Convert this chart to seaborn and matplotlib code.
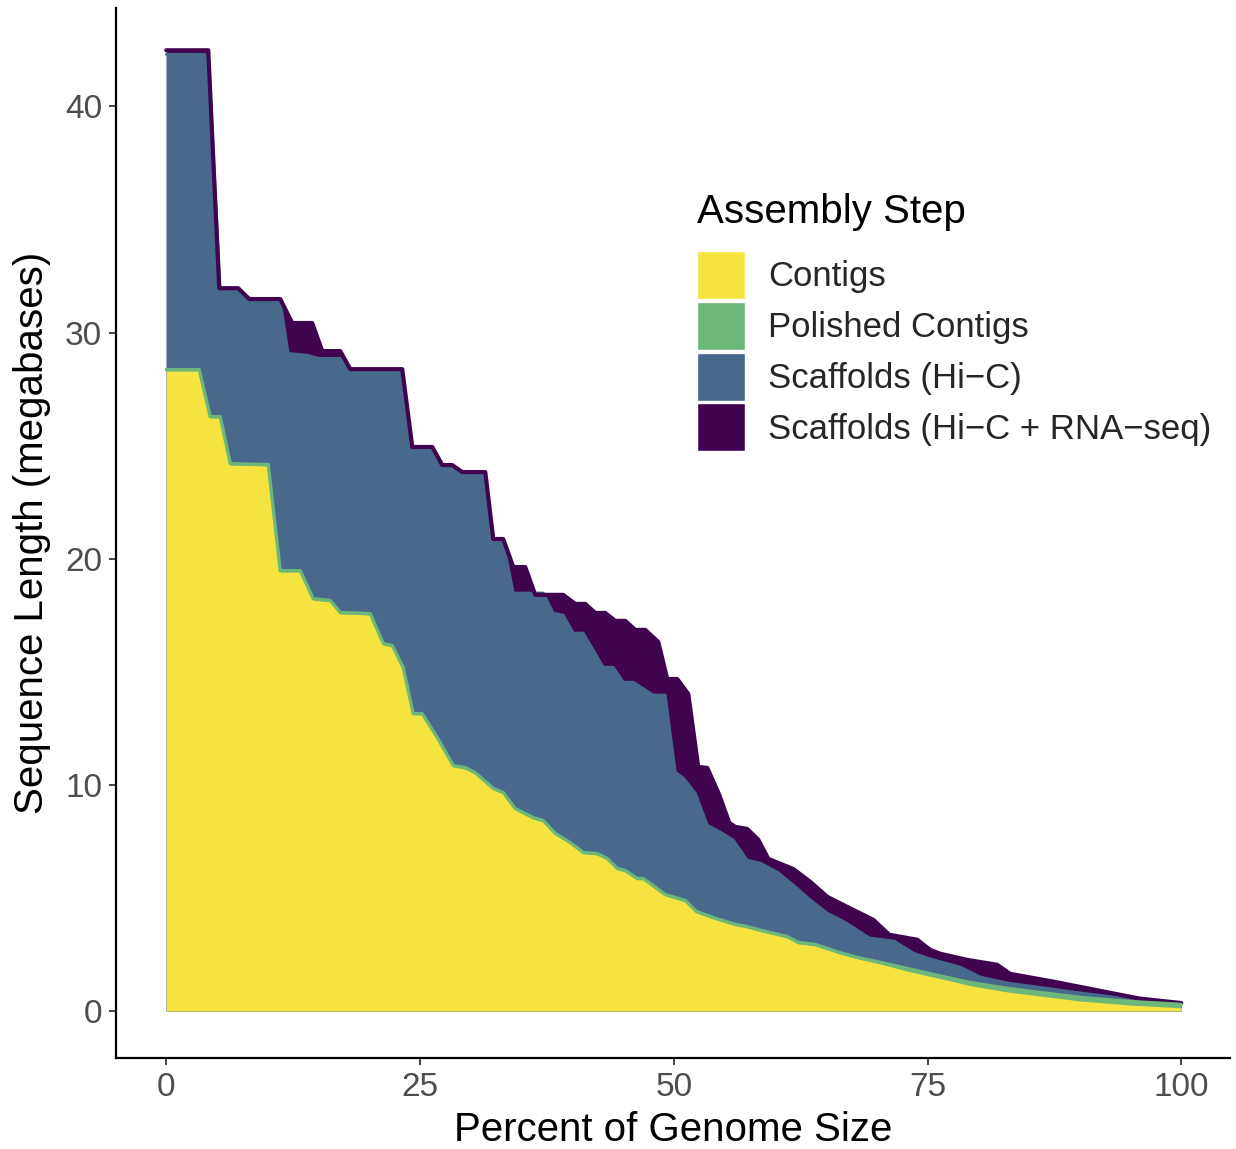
import matplotlib
matplotlib.use("Agg")
import matplotlib.pyplot as plt
from matplotlib.patches import Patch
import pandas as pd
import seaborn as sns

# assembly steps (legend order) and their fill colours
steps = ["Contigs", "Polished Contigs", "Scaffolds (Hi\u2212C)", "Scaffolds (Hi\u2212C + RNA\u2212seq)"]
colors = ["#F5E43F", "#6DB77B", "#48698B", "#3F0350"]

# Scaffolds (Hi-C + RNA-seq): percent of genome, length in Mb
rna_x = [0, 4.14, 5.22, 7.09, 8.18, 11.23, 12.41, 14.38, 15.37, 17.14, 18.13, 23.25, 24.24, 26.21,
         27.19, 28.18, 29.16, 31.43, 32.22, 33.20, 34.19, 35.37, 36.35, 39.11, 40.30, 41.28, 42.27,
         43.25, 44.24, 45.22, 46.21, 47.19, 48.47, 49.36, 50.34, 51.43, 52.41, 53.30, 54.48, 55.47,
         56.06, 57.24, 58.33, 59.31, 60.49, 61.77, 63.45, 65.12, 66.70, 69.66, 71.23, 73.99, 75.27,
         76.26, 78.92, 81.87, 83.15, 87.49, 91.43, 95.86, 100]
rna_y = [42.48, 42.48, 31.96, 31.96, 31.48, 31.48, 30.42, 30.42, 29.18, 29.18, 28.38, 28.38, 24.94, 24.94,
         24.14, 24.14, 23.83, 23.83, 20.87, 20.87, 19.63, 19.63, 18.40, 18.40, 18.00, 18.00, 17.60,
         17.60, 17.25, 17.25, 16.85, 16.85, 16.32, 14.68, 14.68, 14.02, 10.79, 10.75, 9.56, 8.32,
         8.14, 8.05, 7.57, 6.73, 6.51, 6.28, 5.71, 5.05, 4.69, 4.03, 3.37, 3.15, 2.70,
         2.53, 2.26, 2.04, 1.64, 1.29, 0.94, 0.55, 0.35]

# Scaffolds (Hi-C)
hic_x = [0, 4.14, 5.32, 7.09, 8.18, 11.23, 12.02, 13.99, 14.98, 17.14, 18.13, 23.25, 24.24, 26.21,
         27.19, 28.18, 29.16, 31.43, 32.22, 33.20, 34.19, 37.14, 38.13, 39.11, 40.10, 41.08, 43.05,
         44.04, 45.02, 46.01, 47.98, 49.16, 50.15, 50.94, 52.12, 53.30, 54.58, 55.86, 57.24, 58.52,
         60.20, 61.77, 63.45, 65.12, 67.00, 69.26, 71.72, 73.60, 74.98, 78.23, 80.20, 82.86, 90.05,
         94.98, 100]
hic_y = [42.30, 42.30, 31.87, 31.87, 31.38, 31.38, 29.08, 28.99, 28.86, 28.86, 28.29, 28.29, 24.84, 24.84,
         24.04, 24.04, 23.73, 23.73, 20.77, 20.77, 18.48, 18.48, 17.59, 17.50, 16.71, 16.71, 15.20,
         15.20, 14.54, 14.54, 13.97, 13.97, 10.56, 10.30, 9.64, 8.22, 7.91, 7.56, 6.67, 6.54,
         6.14, 5.57, 4.91, 4.33, 3.89, 3.23, 3.09, 2.56, 2.34, 1.94, 1.50, 1.24, 0.80,
         0.53, 0.31]

# Polished Contigs
polished_x = [0, 3.25, 4.33, 5.32, 6.31, 10.05, 11.23, 13.20, 14.48, 16.16, 17.14, 20.10, 21.38, 22.27,
              23.35, 24.33, 25.22, 26.70, 28.28, 29.46, 30.44, 32.22, 33.20, 34.38, 36.16, 37.14, 38.33,
              39.80, 41.08, 42.46, 43.45, 44.43, 45.22, 46.40, 47.00, 49.16, 51.13, 52.22, 53.89, 56.06,
              57.14, 59.01, 61.18, 62.27, 63.94, 66.31, 68.08, 70.34, 73.00, 76.95, 79.21, 82.86, 86.80,
              90.05, 94.98, 100]
polished_y = [28.36, 28.36, 26.28, 26.28, 24.20, 24.16, 19.47, 19.47, 18.23, 18.15, 17.62, 17.57, 16.25, 16.16,
              15.18, 13.15, 13.15, 12.09, 10.85, 10.76, 10.54, 9.84, 9.66, 8.95, 8.55, 8.42, 7.85,
              7.45, 7.01, 6.96, 6.74, 6.30, 6.21, 5.86, 5.86, 5.15, 4.89, 4.40, 4.13, 3.83,
              3.74, 3.52, 3.29, 3.03, 2.94, 2.59, 2.37, 2.15, 1.88, 1.48, 1.26, 1.00, 0.78,
              0.60, 0.42, 0.29]

# Contigs
contig_x = polished_x
contig_y = [28.30, 28.30, 26.22, 26.22, 24.14, 24.10, 19.41, 19.41, 18.17, 18.09, 17.56, 17.51, 16.19, 16.10,
            15.12, 13.09, 13.09, 12.03, 10.79, 10.70, 10.48, 9.78, 9.60, 8.89, 8.49, 8.36, 7.79,
            7.39, 6.95, 6.90, 6.68, 6.24, 6.15, 5.80, 5.80, 5.09, 4.83, 4.34, 4.07, 3.77,
            3.68, 3.46, 3.23, 2.97, 2.88, 2.53, 2.31, 2.08, 1.76, 1.36, 1.12, 0.84, 0.62,
            0.44, 0.26, 0.14]

df = pd.concat([
    pd.DataFrame({"pct": contig_x, "mb": contig_y, "step": steps[0]}),
    pd.DataFrame({"pct": polished_x, "mb": polished_y, "step": steps[1]}),
    pd.DataFrame({"pct": hic_x, "mb": hic_y, "step": steps[2]}),
    pd.DataFrame({"pct": rna_x, "mb": rna_y, "step": steps[3]}),
])

sns.set_theme(style="white")
plt.rcParams["font.family"] = ["Liberation Sans", "DejaVu Sans"]

fig = plt.figure(figsize=(12.36, 11.49), dpi=100)
ax = fig.add_axes([116 / 1236, 1 - 1058 / 1149, (1230 - 116) / 1236, (1058 - 8) / 1149])

# fills: biggest area first so the smaller ones sit on top
for step, col in reversed(list(zip(steps, colors))):
    sub = df[df["step"] == step]
    ax.fill_between(sub["pct"], 0, sub["mb"], color=col, lw=0)

# outlines on the upper edge of each area
for i, lw in [(2, 2.0), (3, 3.0), (1, 2.4)]:
    sub = df[df["step"] == steps[i]]
    sns.lineplot(data=sub, x="pct", y="mb", color=colors[i], lw=lw, sort=False,
                 estimator=None, ax=ax, legend=False)

ax.set_xlim(-4.95, 104.8)
ax.set_ylim(-2.08, 44.35)
ax.set_xticks([0, 25, 50, 75, 100])
ax.set_yticks([0, 10, 20, 30, 40])
ax.tick_params(axis="both", labelsize=24, labelcolor="#4D4D4D", color="#333333",
               length=5, width=1.3, pad=5, left=True, bottom=True)
for side in ["top", "right"]:
    ax.spines[side].set_visible(False)
for side in ["left", "bottom"]:
    ax.spines[side].set_color("black")
    ax.spines[side].set_linewidth(1.6)

ax.set_xlabel("Percent of Genome Size", fontsize=29, color="black", labelpad=6)
ax.set_ylabel("Sequence Length (megabases)", fontsize=29, color="black", labelpad=10)

# legend: title placed as its own text, keys below it
fig.text(697 / 1236, 1 - 212 / 1149, "Assembly Step", fontsize=29, color="black",
         ha="left", va="center")
handles = [Patch(facecolor=c, edgecolor="white", lw=1) for c in colors]
ax.legend(handles, steps, fontsize=25, loc="upper left",
          bbox_to_anchor=(697 / 1236, 1 - 251 / 1149), bbox_transform=fig.transFigure,
          frameon=False, borderpad=0, borderaxespad=0,
          handlelength=1.38, handleheight=1.75, labelspacing=0.08, handletextpad=0.66)

fig.savefig("out.png", dpi=100)
